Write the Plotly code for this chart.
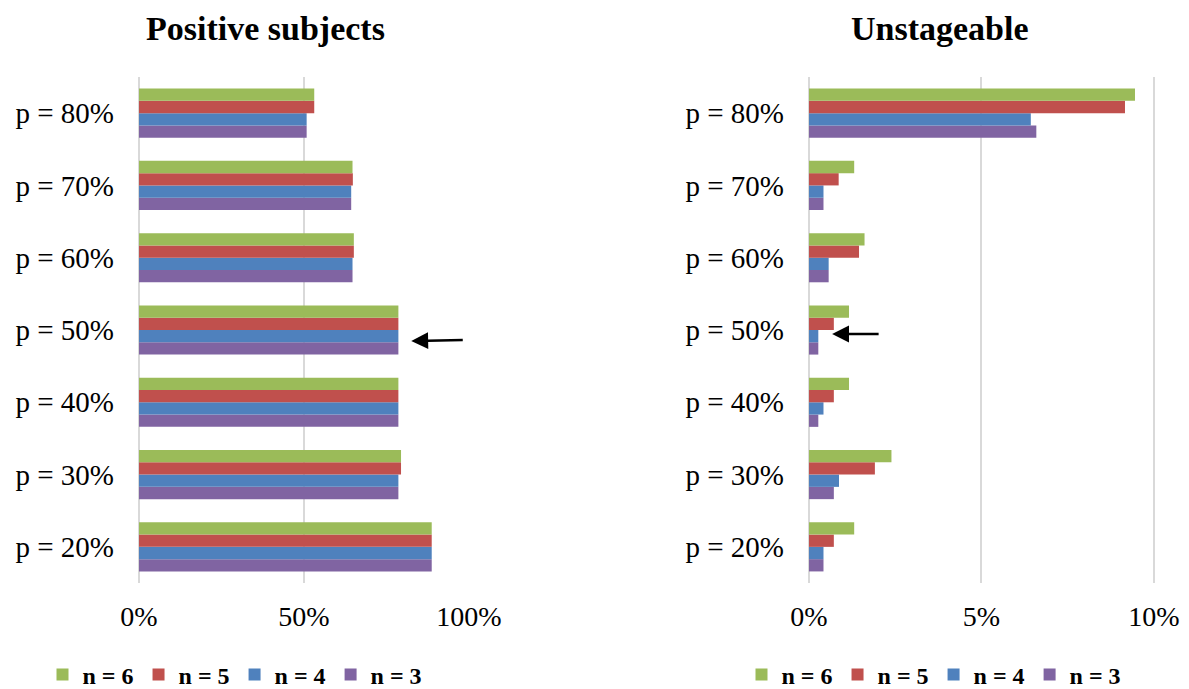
import plotly.graph_objects as go

categories = ["p = 20%", "p = 30%", "p = 40%", "p = 50%", "p = 60%", "p = 70%", "p = 80%"]
series_names = ["n = 3", "n = 4", "n = 5", "n = 6"]
colors = ["#8064A2", "#4F81BD", "#C0504D", "#9BBB59"]

# Positive subjects (%)
pos_n3 = [88.7, 78.6, 78.6, 78.6, 64.7, 64.3, 50.8]
pos_n4 = [88.7, 78.6, 78.6, 78.6, 64.7, 64.3, 50.8]
pos_n5 = [88.7, 79.4, 78.6, 78.6, 65.1, 64.8, 53.1]
pos_n6 = [88.7, 79.4, 78.6, 78.6, 65.1, 64.7, 53.1]

# Unstageable (%)
uns_n3 = [0.42, 0.72, 0.27, 0.27, 0.57, 0.42, 6.59]
uns_n4 = [0.42, 0.87, 0.42, 0.27, 0.57, 0.42, 6.43]
uns_n5 = [0.72, 1.91, 0.72, 0.72, 1.45, 0.86, 9.16]
uns_n6 = [1.31, 2.39, 1.16, 1.16, 1.61, 1.31, 9.45]

pos_series = [pos_n3, pos_n4, pos_n5, pos_n6]
uns_series = [uns_n3, uns_n4, uns_n5, uns_n6]

SERIF = "Liberation Serif, Times New Roman, serif"

# page body has an 8px margin; figure sized to fit the window
OFF = 8
W, H = 1189 - OFF, 689 - OFF


def px(x):
    return (x - OFF) / W


def py(y):
    return 1 - (y - OFF) / H


fig = go.Figure()
for name, col, vals in zip(series_names, colors, pos_series):
    fig.add_trace(go.Bar(y=categories, x=[v / 100 for v in vals], orientation="h",
                         name=name, marker=dict(color=col, line=dict(width=0)),
                         xaxis="x", yaxis="y", legend="legend"))
for name, col, vals in zip(series_names, colors, uns_series):
    fig.add_trace(go.Bar(y=categories, x=[v / 100 for v in vals], orientation="h",
                         name=name, marker=dict(color=col, line=dict(width=0)),
                         xaxis="x2", yaxis="y2", legend="legend2"))

grid = "#d9d9d9"
xcommon = dict(showgrid=True, gridcolor=grid, gridwidth=2, zeroline=True,
               zerolinecolor=grid, zerolinewidth=2, showline=False, ticks="",
               tickfont=dict(family=SERIF, size=28, color="#000"),
               ticklabelstandoff=14, fixedrange=True, automargin=False)
ycommon = dict(type="category", showgrid=False, zeroline=False, showline=False, ticks="",
               tickfont=dict(family=SERIF, size=29, color="#000"),
               ticklabelstandoff=24, fixedrange=True, automargin=False)

legcommon = dict(orientation="h", yanchor="middle", y=py(675), xanchor="center",
                 xref="container", yref="container",
                 traceorder="reversed", font=dict(family=SERIF, size=24, color="#000", weight="bold"),
                 bgcolor="rgba(0,0,0,0)", itemwidth=30)

fig.update_layout(
    width=W, height=H,
    margin=dict(l=0, r=0, t=0, b=0, autoexpand=False),
    paper_bgcolor="white", plot_bgcolor="white",
    barmode="group", bargap=0.32, bargroupgap=0,
    xaxis=dict(domain=[px(139), px(470)], anchor="y", range=[0, 1.003],
               tickvals=[0, 0.5, 1.0], tickformat=".0%", **xcommon),
    yaxis=dict(domain=[py(583), py(77)], anchor="x", **ycommon),
    xaxis2=dict(domain=[px(809), px(1155)], anchor="y2", range=[0, 0.1003],
                tickvals=[0, 0.05, 0.10], tickformat=".0%", **xcommon),
    yaxis2=dict(domain=[py(583), py(77)], anchor="x2", **ycommon),
    legend=dict(x=px(235), **legcommon),
    legend2=dict(x=px(934), **legcommon),
    showlegend=True,
    annotations=[
        dict(text="<b>Positive subjects</b>", x=px(265), y=py(28), xref="paper", yref="paper",
             xanchor="center", yanchor="middle", showarrow=False,
             font=dict(family=SERIF, size=34, color="#000")),
        dict(text="<b>Unstageable</b>", x=px(940), y=py(28), xref="paper", yref="paper",
             xanchor="center", yanchor="middle", showarrow=False,
             font=dict(family=SERIF, size=34, color="#000")),
        dict(text="", x=0.825, y="p = 50%", xref="x", yref="y", yshift=-11,
             showarrow=True, arrowhead=2, arrowsize=1.35, arrowwidth=2.5, arrowcolor="#000",
             ax=53, ay=-1, standoff=0),
        dict(text="", x=0.0067, y="p = 50%", xref="x2", yref="y2", yshift=-4,
             showarrow=True, arrowhead=2, arrowsize=1.35, arrowwidth=2.5, arrowcolor="#000",
             ax=48, ay=0, standoff=0),
    ],
)

fig.write_html("out.html")
